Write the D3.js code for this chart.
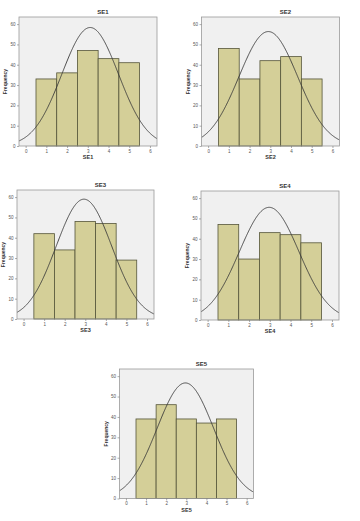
<!DOCTYPE html>
<html><head><meta charset="utf-8">
<script src="https://cdn.jsdelivr.net/npm/d3@7"></script>
<style>html,body{margin:0;padding:0;background:#fff;}svg{display:block;}</style>
</head><body>
<svg id="c" width="360" height="521"></svg>
<script>
// ---- data ----
const titles = ["SE1", "SE2", "SE3", "SE4", "SE5"];
const categories = [1, 2, 3, 4, 5];
const se1 = [33, 36, 47, 43, 41];
const se2 = [48, 33, 42, 44, 33];
const se3 = [42, 34, 48, 47, 29];
const se4 = [47, 30, 43, 42, 38];
const se5 = [39, 46, 39, 37, 39];
const xTicks = [0, 1, 2, 3, 4, 5, 6];
const yTicks = [0, 10, 20, 30, 40, 50, 60];
const yLabel = "Frequency";
const series = [se1, se2, se3, se4, se5];

// ---- layout (frame boxes) ----
const frames = [
  {x0: 19, x1: 157, y0: 17, y1: 146},
  {x0: 201.5, x1: 339.5, y0: 17, y1: 146},
  {x0: 17, x1: 154, y0: 190, y1: 319},
  {x0: 201, x1: 339, y0: 191, y1: 320},
  {x0: 119.5, x1: 253.5, y0: 369, y1: 498.5}
];

const svg = d3.select("#c");
const font = "Arial, 'Liberation Sans', sans-serif";

series.forEach((vals, k) => {
  const f = frames[k];
  const g = svg.append("g");
  const x = d3.scaleLinear().domain([-0.32, 6.34]).range([f.x0, f.x1]);
  const y = d3.scaleLinear().domain([0, 63.5]).range([f.y1, f.y0]);

  const clipId = "clip" + k;
  g.append("clipPath").attr("id", clipId).append("rect")
    .attr("x", f.x0).attr("y", f.y0).attr("width", f.x1 - f.x0).attr("height", f.y1 - f.y0);

  g.append("rect").attr("x", f.x0).attr("y", f.y0)
    .attr("width", f.x1 - f.x0).attr("height", f.y1 - f.y0)
    .attr("fill", "#f0f0f0");

  // bars
  g.selectAll("rect.bar").data(categories.map((c, i) => ({c, v: vals[i]})))
    .enter().append("rect").attr("class", "bar")
    .attr("x", d => x(d.c - 0.5)).attr("width", d => x(d.c + 0.5) - x(d.c - 0.5))
    .attr("y", d => y(d.v)).attr("height", d => y(0) - y(d.v))
    .attr("fill", "#d4cf98").attr("stroke", "#55553a").attr("stroke-width", 0.8);

  // normal curve from the data
  const n = d3.sum(vals);
  const mean = d3.sum(categories.map((c, i) => c * vals[i])) / n;
  const ss = d3.sum(categories.map((c, i) => vals[i] * (c - mean) * (c - mean)));
  const sd = Math.sqrt(ss / (n - 1));
  const pts = d3.range(-0.32, 6.35, 0.02).map(t => [t, n / (sd * Math.sqrt(2 * Math.PI)) * Math.exp(-0.5 * ((t - mean) / sd) ** 2)]);
  g.append("path").datum(pts)
    .attr("clip-path", "url(#" + clipId + ")")
    .attr("d", d3.line().x(d => x(d[0])).y(d => y(d[1])).curve(d3.curveBasis))
    .attr("fill", "none").attr("stroke", "#3a3a3a").attr("stroke-width", 0.9);

  // frame
  g.append("rect").attr("x", f.x0).attr("y", f.y0)
    .attr("width", f.x1 - f.x0).attr("height", f.y1 - f.y0)
    .attr("fill", "none").attr("stroke", "#9a9a9a").attr("stroke-width", 0.8);

  // axes
  const xa = g.append("g").attr("transform", `translate(0,${f.y1})`)
    .call(d3.axisBottom(x).tickValues(xTicks).tickSize(2).tickPadding(1.5).tickFormat(d3.format("d")));
  const ya = g.append("g").attr("transform", `translate(${f.x0},0)`)
    .call(d3.axisLeft(y).tickValues(yTicks).tickSize(2).tickPadding(1.5).tickFormat(d3.format("d")));
  [xa, ya].forEach(a => {
    a.select(".domain").remove();
    a.selectAll("line").attr("stroke", "#777").attr("stroke-width", 0.6);
    a.selectAll("text").attr("font-size", 4.5).attr("font-family", font).attr("fill", "#555");
  });

  const cx = (f.x0 + f.x1) / 2;
  g.append("text").attr("x", cx + 15).attr("y", f.y0 - 3)
    .attr("text-anchor", "middle").attr("font-size", 6).attr("font-weight", "bold")
    .attr("font-family", font).attr("fill", "#333").text(titles[k]);
  g.append("text").attr("x", cx).attr("y", f.y1 + 13)
    .attr("text-anchor", "middle").attr("font-size", 5.5).attr("font-weight", "bold")
    .attr("font-family", font).attr("fill", "#333").text(titles[k]);
  g.append("text")
    .attr("transform", `translate(${f.x0 - 12},${(f.y0 + f.y1) / 2}) rotate(-90)`)
    .attr("text-anchor", "middle").attr("font-size", 5).attr("font-weight", "bold")
    .attr("font-family", font).attr("fill", "#333").text(yLabel);
});
</script>
</body></html>
